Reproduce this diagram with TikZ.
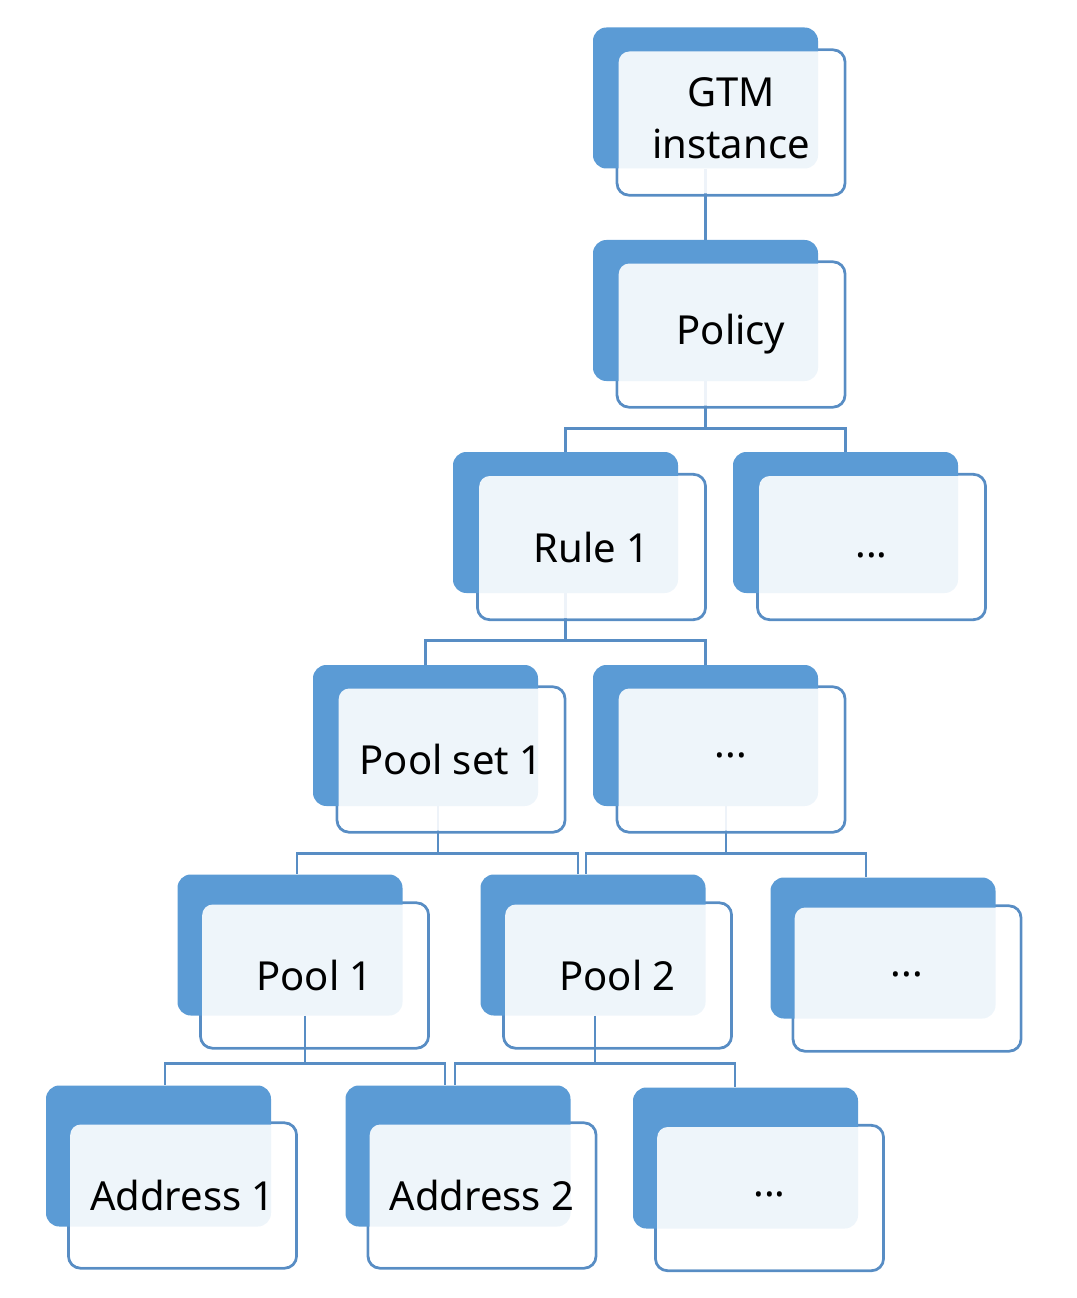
\documentclass[tikz,border=0pt]{standalone}
\usepackage{fontspec}
\setmainfont{Noto Sans}
\usepackage{tikz}
\usetikzlibrary{positioning,backgrounds,calc}
\definecolor{gtmblue}{RGB}{91,155,213}
\definecolor{gtmline}{RGB}{88,141,196}

\begin{document}
\begin{tikzpicture}[x=0.75pt,y=-0.75pt,cardback/.style={fill=gtmblue,rounded corners=10pt,minimum width=168.75pt,minimum height=105.75pt,inner sep=0pt},cardface/.style={fill=white,fill opacity=0.9,text opacity=1,rounded corners=8pt,minimum width=168.5pt,minimum height=106.5pt,inner sep=0pt,align=center,font=\fontsize{30}{39}\selectfont},rim/.style={draw=gtmline,line width=2.1pt,rounded corners=9pt},link/.style={draw=gtmline,line width=2.1pt}]
\useasboundingbox (0,0) rectangle (1076,1298);
% back cards
\node[cardback] (gtmB) at (705.5,98) {};
\node[cardback] (polB) at (705.5,310.5) {};
\node[cardback] (rule1B) at (565.5,522.5) {};
\node[cardback] (ruleDB) at (845.5,522.5) {};
\node[cardback] (pset1B) at (425.5,735.5) {};
\node[cardback] (psetDB) at (705.5,735.5) {};
\node[cardback] (pool1B) at (290,945) {};
\node[cardback] (pool2B) at (593,945) {};
\node[cardback] (poolDB) at (883,948) {};
\node[cardback] (addr1B) at (158.5,1156) {};
\node[cardback] (addr2B) at (458,1156) {};
\node[cardback] (addrDB) at (745.5,1158) {};
% front cards
\node[cardface] (gtm) at (731,122.5) {GTM\\instance\vphantom{y}};
\node[cardface] (pol) at (731,334.5) {Policy};
\node[cardface] (rule1) at (591.5,547) {Rule 1};
\node[cardface] (ruleD) at (871.5,547) {\strut...};
\node[cardface] (pset1) at (451,759.5) {Pool set 1};
\node[cardface] (psetD) at (731,759.5) {\strut···};
\node[cardface] (pool1) at (314.5,975.5) {Pool 1};
\node[cardface] (pool2) at (617.5,975.5) {Pool 2};
\node[cardface] (poolD) at (907,978.5) {\strut···};
\node[cardface] (addr1) at (182.5,1195.5) {Address 1};
\node[cardface] (addr2) at (482,1195.5) {Address 2};
\node[cardface] (addrD) at (769.5,1198) {\strut···};
\begin{scope}[on background layer]
\foreach \n in {gtm,pol,rule1,ruleD,pset1,psetD,pool1,pool2,poolD,addr1,addr2,addrD}{\draw[rim] ([shift={(-1.05pt,-1.05pt)}]\n.south west) rectangle ([shift={(1.05pt,1.05pt)}]\n.north east);}
\draw[link] (gtmB.south)--(polB.north);
\draw[link] (polB.south)--++(0,47)-|(rule1B.north);
\draw[link] (polB.south)--++(0,47)-|(ruleDB.north);
\draw[link] (rule1B.south)--++(0,47)-|(pset1B.north);
\draw[link] (rule1B.south)--++(0,47)-|(psetDB.north);
\draw[link] ([xshift=9.4pt]pset1B.south)--++(0,47)-|([xshift=5.25pt]pool1B.north);
\draw[link] ([xshift=9.4pt]pset1B.south)--++(0,47)-|([xshift=-11.25pt]pool2B.north);
\draw[link] ([xshift=15.4pt]psetDB.south)--++(0,47)-|([xshift=-5.25pt]pool2B.north);
\draw[link] ([xshift=15.4pt]psetDB.south)--++(0,47)-|([xshift=-12.75pt]poolDB.north);
\end{scope}
% pool level links lie over the cards
\draw[link] ([xshift=11.25pt]pool1B.south)--++(0,48)-|([xshift=4.9pt]addr1B.north);
\draw[link] ([xshift=11.25pt]pool1B.south)--++(0,48)-|([xshift=-9.75pt]addr2B.north);
\draw[link] ([xshift=1.5pt]pool2B.south)--++(0,48)-|([xshift=-2.25pt]addr2B.north);
\draw[link] ([xshift=1.5pt]pool2B.south)--++(0,48)-|([xshift=-7.9pt]addrDB.north);
\end{tikzpicture}
\end{document}
